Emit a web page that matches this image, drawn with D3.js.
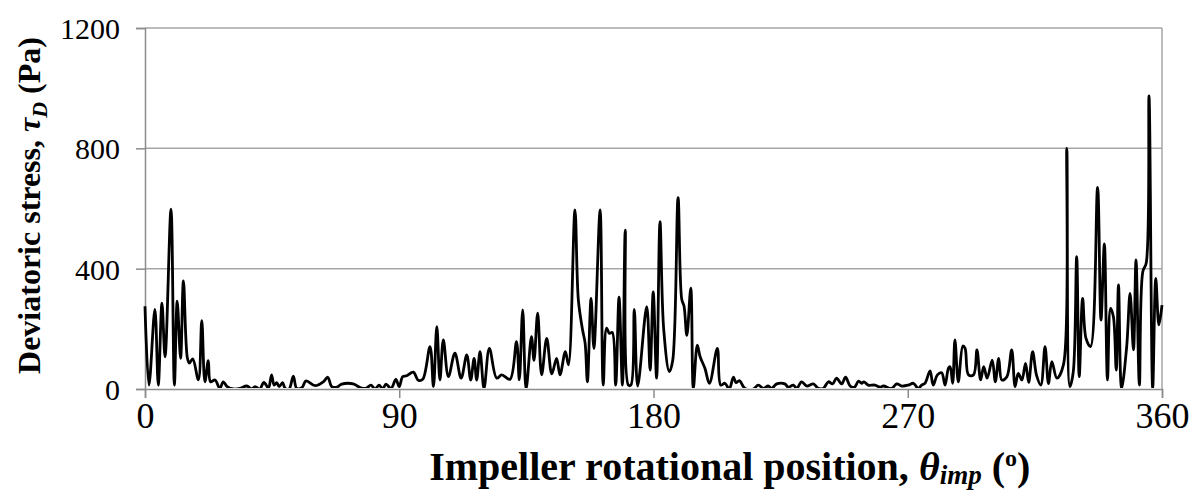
<!DOCTYPE html>
<html>
<head>
<meta charset="utf-8">
<script src="https://cdn.jsdelivr.net/npm/d3@7"></script>
<style>
  html, body { margin: 0; padding: 0; background: #fff; }
  svg { display: block; }
  text { font-family: "Liberation Serif", "Times New Roman", serif; fill: #000; }
</style>
</head>
<body>
<svg id="chart" width="1198" height="490"></svg>
<script>
// Impeller rotational position (degrees) and deviatoric stress (Pa)
const angles = [
  0, 1.4, 3.5, 4.7, 6.0, 7.1, 9.2, 10.4, 11.4, 12.6, 13.6, 15.0, 15.7, 16.9, 18.9, 20.1, 21.2, 22.4, 23.2, 24.8,
  26.5, 27.7, 29.1, 31.3, 33.6, 36.0, 37.8, 39.0, 40.6, 42.1, 43.7, 44.8, 45.7, 46.6, 47.5, 48.7, 49.6, 51.0, 52.5, 53.7,
  55.5, 57.0, 60.2, 63.1, 64.7, 66.1, 67.9, 69.6, 73.7, 75.9, 78.2, 80.0, 81.4, 82.9, 84.1, 85.3, 87.1, 88.8, 90.0, 91.2,
  92.6, 95.0, 96.7, 98.3, 100.9, 102.1, 103.3, 104.4, 105.6, 107.4, 109.7, 111.9, 113.9, 115.3, 116.5, 117.4, 118.6, 120.0, 121.9, 124.5,
  126.3, 129.2, 131.5, 132.5, 133.7, 134.9, 136.8, 137.7, 139.0, 140.4, 142.2, 144.0, 145.7, 146.9, 148.8, 149.9, 152.2, 153.4, 154.9, 155.8,
  156.6, 157.9, 158.9, 161.1, 162.2, 163.4, 164.4, 165.4, 166.6, 167.8, 169.0, 170.0, 171.1, 172.0, 173.2, 174.4, 177.6, 178.8, 179.9, 181.1,
  182.3, 183.6, 185.6, 186.8, 188.7, 190.0, 190.8, 191.8, 193.2, 194.1, 195.5, 196.5, 198.2, 199.8, 202.6, 203.8, 205.3, 206.8, 208.3, 209.2,
  210.4, 212.4, 215.3, 217.1, 218.9, 220.6, 221.8, 223.6, 226.5, 227.7, 229.5, 230.7, 232.4, 234.2, 236.6, 238.3, 240.1, 241.9, 243.4, 244.8,
  246.6, 248.0, 249.6, 251.1, 252.6, 253.7, 254.5, 256.0, 258.4, 260.2, 261.4, 264.3, 266.1, 267.9, 270.2, 272.0, 273.7, 274.9, 276.1, 277.9,
  279.0, 280.5, 282.0, 283.2, 284.4, 285.0, 285.9, 286.7, 287.9, 289.5, 290.3, 291.5, 293.3, 294.5, 295.8, 296.9, 298.1, 299.9, 301.0, 302.2,
  303.3, 305.1, 306.8, 308.0, 309.1, 310.4, 311.7, 312.8, 314.2, 315.6, 317.1, 318.6, 319.8, 321.0, 322.8, 325.1, 326.3, 327.4, 328.6, 329.8,
  330.7, 331.9, 333.1, 334.7, 337.2, 338.4, 339.6, 340.7, 341.8, 342.8, 343.8, 344.6, 345.7, 347.5, 348.7, 349.9, 350.8, 352.0, 353.2, 354.4,
  355.4, 356.7, 357.8, 358.9, 360
];
const stress = [
  275, 13, 265, 13, 285, 107, 598, 13, 292, 102, 359, 103, 86, 100, 30, 227, 24, 94, 24, 30,
  2, 24, 8, 0, 2, 10, 0, 8, 0, 22, 3, 47, 13, 21, 8, 21, 2, 0, 43, 2,
  4, 27, 11, 24, 39, 8, 6, 16, 17, 6, 2, 13, 0, 13, 0, 16, 2, 32, 8, 41,
  44, 56, 29, 32, 141, 8, 207, 30, 163, 41, 119, 36, 113, 30, 102, 30, 124, 2, 135, 36,
  47, 32, 157, 30, 263, 0, 174, 95, 252, 47, 168, 50, 102, 47, 124, 80, 595, 296, 196, 152,
  24, 301, 135, 595, 13, 202, 185, 188, 13, 305, 13, 528, 13, 13, 265, 10, 274, 63, 323, 36,
  556, 200, 58, 95, 636, 298, 276, 178, 335, 2, 146, 107, 69, 19, 135, 13, 19, 0, 39, 21,
  28, 2, 0, 13, 2, 10, 2, 17, 17, 6, 13, 2, 24, 10, 17, 2, 2, 24, 17, 36,
  17, 39, 10, 6, 26, 19, 24, 13, 13, 6, 10, 2, 17, 10, 13, 19, 2, 13, 19, 60,
  13, 47, 54, 13, 69, 74, 19, 163, 24, 143, 135, 47, 47, 130, 30, 74, 36, 96, 24, 102,
  30, 41, 130, 8, 52, 30, 85, 22, 124, 45, 13, 141, 18, 91, 36, 80, 800, 8, 58, 440,
  41, 301, 168, 141, 670, 229, 482, 30, 268, 240, 63, 346, 2, 141, 318, 130, 429, 13, 390, 418,
  974, 2, 368, 213, 279
];
const xTicks = [0, 90, 180, 270, 360];
const yTicks = [0, 400, 800, 1200];

const W = 1198, H = 490;
const margin = { top: 28, right: 36, bottom: 101, left: 145 };
const iw = W - margin.left - margin.right;
const ih = H - margin.top - margin.bottom;

const svg = d3.select("#chart");
const g = svg.append("g").attr("transform", `translate(${margin.left},${margin.top})`);

const x = d3.scaleLinear().domain([0, 360]).range([0, iw]);
const y = d3.scaleLinear().domain([0, 1200]).range([ih, 0]);

// horizontal gridlines
g.append("g")
  .selectAll("line")
  .data(yTicks.filter(t => t > 0))
  .join("line")
  .attr("x1", 0).attr("x2", iw)
  .attr("y1", d => y(d)).attr("y2", d => y(d))
  .attr("stroke", "#a6a6a6").attr("stroke-width", 1.5);

// right border of the plot area
g.append("line")
  .attr("x1", iw).attr("x2", iw).attr("y1", 0).attr("y2", ih)
  .attr("stroke", "#a6a6a6").attr("stroke-width", 1.5);

// axes
const xAxis = g.append("g")
  .attr("transform", `translate(0,${ih})`)
  .call(d3.axisBottom(x).tickValues(xTicks).tickSize(9).tickFormat(d3.format("d")));
const yAxis = g.append("g")
  .call(d3.axisLeft(y).tickValues(yTicks).tickSize(9).tickPadding(16).tickFormat(d3.format("d")));

[xAxis, yAxis].forEach(a => {
  a.select(".domain").attr("stroke", "#8c8c8c").attr("stroke-width", 1.5);
  a.selectAll(".tick line").attr("stroke", "#8c8c8c").attr("stroke-width", 1.5);
  a.selectAll(".tick text")
    .attr("font-family", "Liberation Serif, Times New Roman, serif")
    .attr("fill", "#000");
});
yAxis.selectAll(".tick text").attr("font-size", 30).attr("dy", "0.35em");
xAxis.selectAll(".tick text").attr("font-size", 36).attr("y", 39).attr("dy", null);

// stress trace
svg.append("defs").append("clipPath").attr("id", "plotClip")
  .append("rect").attr("x", -2).attr("y", -4).attr("width", iw + 4).attr("height", ih + 3);

const pts = angles.map((a, i) => [a, stress[i]]);
const line = d3.line()
  .x(d => x(d[0]))
  .y(d => y(d[1]))
  .curve(d3.curveCatmullRom.alpha(0.5));

g.append("path")
  .datum(pts)
  .attr("clip-path", "url(#plotClip)")
  .attr("d", line)
  .attr("fill", "none")
  .attr("stroke", "#000")
  .attr("stroke-width", 2.8)
  .attr("stroke-linejoin", "round");

// axis titles
const xt = svg.append("text")
  .attr("x", x(207) + margin.left).attr("y", 480)
  .attr("text-anchor", "middle")
  .attr("font-size", 40).attr("font-weight", "bold");
xt.append("tspan").text("Impeller rotational position, ");
xt.append("tspan").attr("font-style", "italic").text("θ");
xt.append("tspan").attr("font-style", "italic").attr("font-size", 27).attr("dy", 4).text("imp");
xt.append("tspan").attr("dy", -4).text(" (");
xt.append("tspan").attr("font-size", 24).attr("dy", -14).text("o");
xt.append("tspan").attr("dy", 14).text(")");

const yt = svg.append("text")
  .attr("transform", `translate(40,${margin.top + ih / 2 - 3}) rotate(-90)`)
  .attr("text-anchor", "middle")
  .attr("font-size", 32).attr("font-weight", "bold");
yt.append("tspan").text("Deviatoric stress, ");
yt.append("tspan").attr("font-style", "italic").text("τ");
yt.append("tspan").attr("font-style", "italic").attr("font-size", 22).attr("dy", 7).text("D");
yt.append("tspan").attr("dy", -7).text(" (Pa)");
</script>
</body>
</html>
